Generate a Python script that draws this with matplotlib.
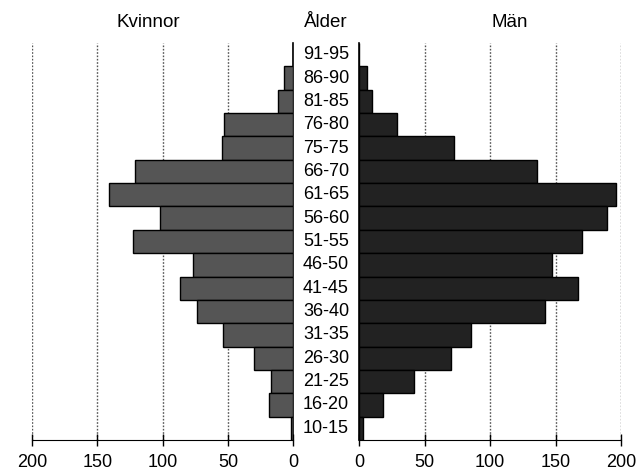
import numpy as np
import matplotlib.pyplot as plt
from matplotlib.transforms import blended_transform_factory

plt.rcParams['font.family'] = ['Liberation Sans', 'DejaVu Sans']

age_groups = ["91-95", "86-90", "81-85", "76-80", "75-75", "66-70", "61-65",
              "56-60", "51-55", "46-50", "41-45", "36-40", "31-35", "26-30",
              "21-25", "16-20", "10-15"]
kvinnor = [0, 7, 12, 53, 55, 121, 141, 102, 123, 77, 87, 74, 54, 30, 17, 19, 1.5]
man = [0, 6, 10, 29, 72, 136, 196, 189, 170, 147, 167, 142, 85, 70, 42, 18, 3]

fig = plt.figure(figsize=(6.42, 4.70), dpi=100)
ax_l = fig.add_axes([0.0498, 0.0638, 0.4072, 0.8447])
ax_r = fig.add_axes([0.5597, 0.0638, 0.4076, 0.8447])

y = np.arange(len(age_groups))[::-1]

ax_l.barh(y, kvinnor, height=1.0, color='#555555', edgecolor='black', linewidth=1.0, zorder=3)
ax_r.barh(y, man, height=1.0, color='#222222', edgecolor='black', linewidth=1.0, zorder=3)

ticks = [0, 50, 100, 150, 200]
for ax in (ax_l, ax_r):
    ax.set_ylim(-0.5, len(age_groups) - 0.5)
    ax.set_yticks([])
    ax.set_xticks(ticks)
    ax.tick_params(axis='x', direction='inout', length=8, width=1, labelsize=13, pad=6)
    ax.spines['top'].set_visible(False)
    for x in [50, 100, 150, 200]:
        ax.axvline(x, color='#555555', linestyle=(0, (1.2, 1.2)), linewidth=1, zorder=1)

ax_l.set_xlim(200, 0)
ax_l.spines['left'].set_visible(False)
ax_l.spines['right'].set_linewidth(1.2)

ax_r.set_xlim(0, 200)
ax_r.spines['right'].set_visible(False)
ax_r.spines['left'].set_linewidth(1.2)

# age labels in the middle column
trans = blended_transform_factory(fig.transFigure, ax_l.transData)
for yi, label in zip(y, age_groups):
    ax_l.text(0.5078, yi, label, transform=trans, ha='center', va='center',
              fontsize=13, clip_on=False)

fig.text(0.2305, 0.953, "Kvinnor", ha='center', va='center', fontsize=13.5)
fig.text(0.5078, 0.953, "Ålder", ha='center', va='center', fontsize=13.5)
fig.text(0.7944, 0.953, "Män", ha='center', va='center', fontsize=13.5)

plt.savefig('out.png', dpi=100)
